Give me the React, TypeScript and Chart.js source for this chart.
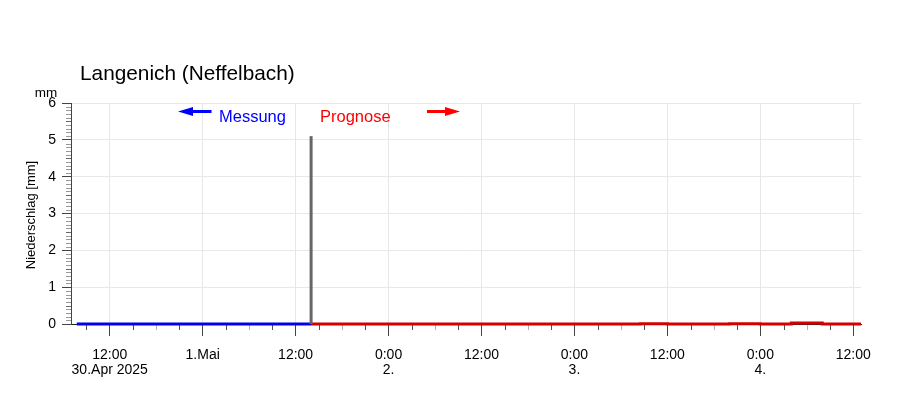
import React, { useEffect, useRef } from 'react';
import { Chart, registerables } from 'chart.js';

Chart.register(...registerables);

const FONT = "'Liberation Sans', Arial, Helvetica, sans-serif";

// x values are hours since 30 Apr 2025 0:00
const xMin = 7;
const xMax = 109;
const majorHours = [12, 24, 36, 48, 60, 72, 84, 96, 108];
const majorLabels: (string | string[])[] = [
  ['12:00', '30.Apr 2025'],
  '1.Mai',
  '12:00',
  ['0:00', '2.'],
  '12:00',
  ['0:00', '3.'],
  '12:00',
  ['0:00', '4.'],
  '12:00',
];
const yTicks = [0, 1, 2, 3, 4, 5, 6];

const measuredHours = [7.75, 38];
const measuredValues = [0, 0];
const spikeHours = [38, 38];
const spikeValues = [0, 5.1];
const forecastHours = [38, 80.5, 84, 92, 96, 100, 104, 109];
const forecastValues = [0, 0.01, 0, 0.01, 0, 0.03, 0, 0];

const title = 'Langenich (Neffelbach)';
const yTitle = 'Niederschlag [mm]';
const unitLabel = 'mm';
const legendMeasured = 'Messung';
const legendForecast = 'Prognose';

const toPoints = (xs: number[], ys: number[]) => xs.map((x, i) => ({ x, y: ys[i] }));

const decor = {
  id: 'decor',
  beforeDatasetsDraw(chart: any) {
    const ctx = chart.ctx;
    const xs = chart.scales.x;
    const ys = chart.scales.y;
    const bottom = chart.chartArea.bottom;
    const left = chart.chartArea.left;
    ctx.save();
    ctx.lineWidth = 1;
    for (let h = Math.ceil(xMin / 3) * 3; h <= xMax; h += 3) {
      if (h % 12 === 0) continue;
      const px = Math.round(xs.getPixelForValue(h)) + 0.5;
      ctx.strokeStyle = h % 6 === 0 ? '#b0b0b0' : '#505050';
      ctx.beginPath();
      ctx.moveTo(px, bottom + 1);
      ctx.lineTo(px, bottom + 6);
      ctx.stroke();
    }
    for (let i = 1; i < 60; i++) {
      if (i % 10 === 0) continue;
      const py = Math.round(ys.getPixelForValue(i / 10)) + 0.5;
      ctx.strokeStyle = i % 5 === 0 ? '#666' : '#999';
      ctx.beginPath();
      ctx.moveTo(left - 5, py);
      ctx.lineTo(left, py);
      ctx.stroke();
    }
    ctx.restore();
  },
  afterDraw(chart: any) {
    const ctx = chart.ctx;
    ctx.save();
    ctx.fillStyle = '#000';
    ctx.textBaseline = 'alphabetic';
    ctx.textAlign = 'left';
    ctx.font = `20.8px ${FONT}`;
    ctx.fillText(title, 80, 79.5);

    ctx.font = `13.5px ${FONT}`;
    ctx.textAlign = 'center';
    ctx.fillText(unitLabel, 46, 96.5);

    ctx.save();
    ctx.translate(35, 215);
    ctx.rotate(-Math.PI / 2);
    ctx.font = `13px ${FONT}`;
    ctx.textAlign = 'center';
    ctx.textBaseline = 'alphabetic';
    ctx.fillText(yTitle, 0, 0);
    ctx.restore();

    ctx.font = `16.5px ${FONT}`;
    ctx.textAlign = 'left';
    ctx.fillStyle = '#0000ff';
    ctx.fillText(legendMeasured, 219, 121.5);
    ctx.fillStyle = '#ff0000';
    ctx.fillText(legendForecast, 320, 121.5);

    // arrows
    const ay = 111.5;
    ctx.fillStyle = '#0000ff';
    ctx.fillRect(190, ay - 1.5, 21.5, 3);
    ctx.beginPath();
    ctx.moveTo(178, ay);
    ctx.lineTo(193, ay - 4.5);
    ctx.lineTo(193, ay + 4.5);
    ctx.closePath();
    ctx.fill();

    ctx.fillStyle = '#ff0000';
    ctx.fillRect(427, ay - 1.5, 21, 3);
    ctx.beginPath();
    ctx.moveTo(460, ay);
    ctx.lineTo(445, ay - 4.5);
    ctx.lineTo(445, ay + 4.5);
    ctx.closePath();
    ctx.fill();
    ctx.restore();
  },
};

export default function App() {
  const ref = useRef<HTMLCanvasElement | null>(null);

  useEffect(() => {
    if (!ref.current) return;
    const chart = new Chart(ref.current, {
      type: 'line',
      data: {
        datasets: [
          {
            label: 'Summe',
            data: toPoints(spikeHours, spikeValues),
            borderColor: '#666666',
            borderWidth: 3,
            pointRadius: 0,
            borderCapStyle: 'butt',
            clip: false,
          },
          {
            label: 'Messung',
            data: toPoints(measuredHours, measuredValues),
            borderColor: '#0000ee',
            borderWidth: 3,
            pointRadius: 0,
            clip: false,
          },
          {
            label: 'Prognose',
            data: toPoints(forecastHours, forecastValues),
            borderColor: '#d40000',
            borderWidth: 3,
            pointRadius: 0,
            stepped: 'before',
            clip: false,
          },
        ],
      },
      options: {
        animation: false,
        responsive: false,
        maintainAspectRatio: false,
        layout: { padding: { top: 103, right: 39, left: 0, bottom: 0 } },
        plugins: {
          legend: { display: false },
          tooltip: { enabled: false },
          title: { display: false },
        },
        scales: {
          x: {
            type: 'linear',
            min: xMin,
            max: xMax,
            afterFit: (s: any) => {
              s.height = 72;
            },
            afterBuildTicks: (s: any) => {
              s.ticks = majorHours.map((v) => ({ value: v }));
            },
            ticks: {
              autoSkip: false,
              maxRotation: 0,
              minRotation: 0,
              padding: 11,
              color: '#000',
              font: { family: FONT, size: 14, lineHeight: 1.1 },
              callback: (v: any) => {
                const i = majorHours.indexOf(Number(v));
                return i >= 0 ? majorLabels[i] : '';
              },
            },
            grid: { color: '#e6e6e6', tickColor: '#444', tickLength: 12, drawTicks: true },
            border: { color: '#222', width: 1 },
          },
          y: {
            type: 'linear',
            min: 0,
            max: 6,
            afterFit: (s: any) => {
              s.width = 71;
            },
            afterBuildTicks: (s: any) => {
              s.ticks = yTicks.map((v) => ({ value: v }));
            },
            ticks: {
              padding: 6,
              color: '#000',
              font: { family: FONT, size: 14 },
            },
            grid: { color: '#e8e8e8', tickColor: '#444', tickLength: 9 },
            border: { color: '#444', width: 1 },
          },
        },
      },
      plugins: [decor],
    } as any);
    return () => chart.destroy();
  }, []);

  return (
    <div style={{ position: 'fixed', left: 0, top: 0, width: 900, height: 396, background: '#fff' }}>
      <canvas ref={ref} width={900} height={396} style={{ display: 'block' }} />
    </div>
  );
}
